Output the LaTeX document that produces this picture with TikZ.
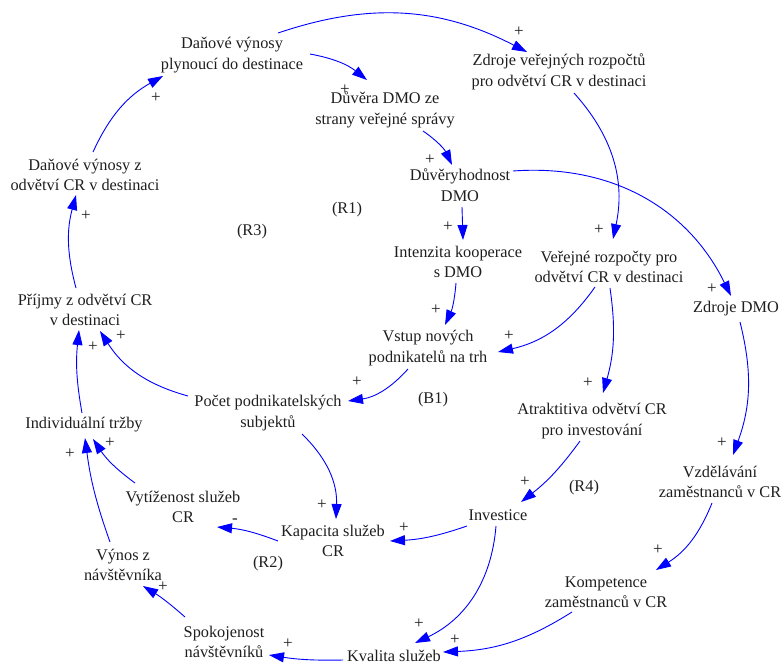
\documentclass[tikz,border=0pt]{standalone}
\usepackage{fontspec}
\setmainfont{Liberation Serif}
\usetikzlibrary{arrows.meta}
\definecolor{linkblue}{RGB}{0,0,255}
\definecolor{inkgray}{RGB}{30,30,30}
\tikzset{
  var/.style={align=center, inner sep=0pt, text=inkgray,
    font=\fontsize{16.3}{20.5}\selectfont},
  sign/.style={inner sep=0pt, text=inkgray, font=\fontsize{17}{18}\selectfont},
  loopname/.style={inner sep=0pt, text=inkgray, font=\fontsize{16.3}{20}\selectfont},
  link/.style={draw=linkblue, line width=0.9pt,
    -{Triangle[length=15pt,width=10pt]}}
}
\begin{document}
\begin{tikzpicture}[x=1pt, y=-1pt]
\useasboundingbox (0,0) rectangle (783,662);

% variables
\node[var] (dvp)  at (232,55)  {Daňové výnosy\\plynoucí do destinace};
\node[var] (ddmo) at (385,110) {Důvěra DMO ze\\strany veřejné správy};
\node[var] (zvr)  at (559,72)  {Zdroje veřejných rozpočtů\\pro odvětví CR v destinaci};
\node[var] (dhd)  at (460,185) {Důvěryhodnost\\DMO};
\node[var] (dvz)  at (85,175)  {Daňové výnosy z\\odvětví CR v destinaci};
\node[var] (ik)   at (458,262) {Intenzita kooperace\\s DMO};
\node[var] (vr)   at (609,267) {Veřejné rozpočty pro\\odvětví CR v destinaci};
\node[var] (zdmo) at (736,309) {Zdroje DMO};
\node[var] (pr)   at (85,310)  {Příjmy z odvětví CR\\v destinaci};
\node[var] (vn)   at (428,348) {Vstup nových\\podnikatelů na trh};
\node[var] (pps)  at (268,413) {Počet podnikatelských\\subjektů};
\node[var] (atr)  at (592,421) {Atraktitiva odvětví CR\\pro investování};
\node[var] (it)   at (84,425)  {Individuální tržby};
\node[var] (vzd)  at (720,482) {Vzdělávání\\zaměstnanců v CR};
\node[var] (vyt)  at (183,507) {Vytíženost služeb\\CR};
\node[var] (inv)  at (498,515) {Investice};
\node[var] (kap)  at (333,541) {Kapacita služeb\\CR};
\node[var] (vyn)  at (123,565) {Výnos z\\návštěvníka};
\node[var] (komp) at (606,592) {Kompetence\\zaměstnanců v CR};
\node[var] (spok) at (224,642) {Spokojenost\\návštěvníků};
\node[var] (kval) at (394,656) {Kvalita služeb};

% loop identifiers
\node[loopname] (r1) at (347,210) {(R1)};
\node[loopname] (r3) at (252,232) {(R3)};
\node[loopname] (b1) at (433,400) {(B1)};
\node[loopname] (r4) at (584,488) {(R4)};
\node[loopname] (r2) at (268,564) {(R2)};

% causal links
\draw[link] ([shift={(46,-22)}]dvp.center)  to[bend left=23] ([shift={(-32,-20)}]zvr.center);
\draw[link] ([shift={(78,-1)}]dvp.center)   to[bend left=14] ([shift={(-18,-30)}]ddmo.center);
\draw[link] ([shift={(38,21)}]ddmo.center)  to[bend left=15] ([shift={(-8,-20)}]dhd.center);
\draw[link] ([shift={(2,22)}]dhd.center)    -- ([shift={(5,-22)}]ik.center);
\draw[link] ([shift={(53,-14)}]dhd.center)  to[bend left=34] ([shift={(-5,-13)}]zdmo.center);
\draw[link] ([shift={(15,21)}]zvr.center)   to[bend left=27] ([shift={(4,-28)}]vr.center);
\draw[link] ([shift={(-2,21)}]ik.center)    to[bend left=10] ([shift={(17,-23)}]vn.center);
\draw[link] ([shift={(-14,20)}]vr.center)   to[bend left=21] ([shift={(70,4)}]vn.center);
\draw[link] ([shift={(1,21)}]vr.center)     to[bend left=12] ([shift={(11,-28)}]atr.center);
\draw[link] ([shift={(-20,21)}]vn.center)   to[bend left=20] ([shift={(80,-12)}]pps.center);
\draw[link] ([shift={(-80,-17)}]pps.center) to[bend left=21] ([shift={(15,21)}]pr.center);
\draw[link] ([shift={(34,21)}]pps.center)   to[bend left=24] ([shift={(3,-22)}]kap.center);
\draw[link] ([shift={(-9,-22)}]pr.center)   to[bend left=15] ([shift={(-9,20)}]dvz.center);
\draw[link] ([shift={(8,-23)}]dvz.center)   to[bend left=18] ([shift={(-69,21)}]dvp.center);
\draw[link] ([shift={(-2,-12)}]it.center)   to[bend left=8]  ([shift={(-6,20)}]pr.center);
\draw[link] ([shift={(-48,-24)}]vyt.center) to[bend left=10] ([shift={(9,14)}]it.center);
\draw[link] ([shift={(-13,-23)}]vyn.center) to[bend left=6]  ([shift={(1,13)}]it.center);
\draw[link] ([shift={(-55,0)}]kap.center)   to[bend right=8] ([shift={(34,20)}]vyt.center);
\draw[link] ([shift={(-31,11)}]inv.center)  to[bend left=8]  ([shift={(57,0)}]kap.center);
\draw[link] ([shift={(-2,11)}]inv.center)   to[bend left=30] ([shift={(21,-13)}]kval.center);
\draw[link] ([shift={(-12,20)}]atr.center)  to[bend left=8]  ([shift={(23,-13)}]inv.center);
\draw[link] ([shift={(4,13)}]zdmo.center)   to[bend left=17] ([shift={(13,-27)}]vzd.center);
\draw[link] ([shift={(-8,21)}]vzd.center)   to[bend left=18] ([shift={(50,-22)}]komp.center);
\draw[link] ([shift={(-34,20)}]komp.center) to[bend left=15] ([shift={(49,-4)}]kval.center);
\draw[link] ([shift={(-51,4)}]kval.center)  to[bend left=5]  ([shift={(45,13)}]spok.center);
\draw[link] ([shift={(-39,-25)}]spok.center) to[bend right=5] ([shift={(20,21)}]vyn.center);

% link polarities
\node[sign] (p1)  at (519,32)  {+};
\node[sign] (p2)  at (345,90)  {+};
\node[sign] (p3)  at (430,160) {+};
\node[sign] (p4)  at (448,227) {+};
\node[sign] (p5)  at (712,289) {+};
\node[sign] (p6)  at (599,230) {+};
\node[sign] (p7)  at (436,310) {+};
\node[sign] (p8)  at (509,336) {+};
\node[sign] (p9)  at (588,383) {+};
\node[sign] (p10) at (357,382) {+};
\node[sign] (p11) at (121,336) {+};
\node[sign] (p12) at (322,505) {+};
\node[sign] (p13) at (86,216)  {+};
\node[sign] (p14) at (156,98)  {+};
\node[sign] (p15) at (93,347)  {+};
\node[sign] (p16) at (110,443) {+};
\node[sign] (p17) at (70,454)  {+};
\node[sign] (p18) at (235,521) {-};
\node[sign] (p19) at (404,528) {+};
\node[sign] (p20) at (419,624) {+};
\node[sign] (p21) at (525,482) {+};
\node[sign] (p22) at (722,443) {+};
\node[sign] (p23) at (658,550) {+};
\node[sign] (p24) at (455,640) {+};
\node[sign] (p25) at (288,644) {+};
\node[sign] (p26) at (163,587) {+};
\end{tikzpicture}
\end{document}
